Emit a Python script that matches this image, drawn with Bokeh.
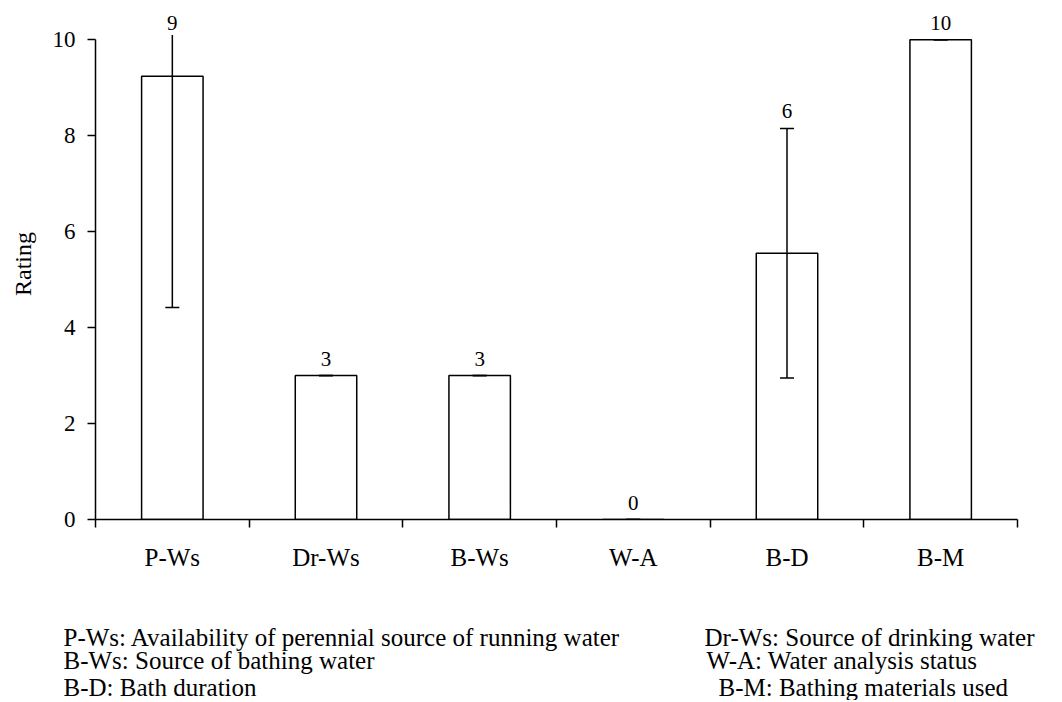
import numpy as np
from bokeh.plotting import figure
from bokeh.models import Range1d, FixedTicker, ColumnDataSource, LabelSet
from bokeh.core.properties import value
from bokeh.embed import file_html
from bokeh.resources import INLINE

categories = ["P-Ws", "Dr-Ws", "B-Ws", "W-A", "B-D", "B-M"]
means = [9.24, 3.0, 3.0, 0.0, 5.55, 10.0]
errors = [4.82, 0.0, 0.0, 0.0, 2.6, 0.0]
value_labels = ["9", "3", "3", "0", "6", "10"]
y_ticks = [0, 2, 4, 6, 8, 10]
legend_left = ["P-Ws: Availability of perennial source of running water",
               "B-Ws: Source of bathing water",
               "B-D: Bath duration"]
legend_right = ["Dr-Ws: Source of drinking water",
                "W-A: Water analysis status",
                "B-M: Bathing materials used"]

FONT = "Liberation Serif"
W = 1062
H1, H2 = 580, 120

x = np.arange(len(categories)) + 0.5
m = np.array(means)
e = np.array(errors)
lower = m - e
upper = m + e
axis_top = 10.1
bar_upper = np.minimum(upper, axis_top)   # error bar is cut at the top of the axis
label_y = np.minimum(upper, 10)

src = ColumnDataSource(dict(x=x, top=m, lower=lower, upper=upper, bar_upper=bar_upper,
                            label_y=label_y, text=value_labels))

p = figure(width=W, height=H1, x_range=Range1d(0, 6), y_range=Range1d(0, 10.65),
           output_backend="svg", toolbar_location=None,
           min_border_left=95, min_border_right=W - 1017, min_border_top=8,
           min_border_bottom=H1 - 519)
p.grid.visible = False
p.outline_line_color = None
p.background_fill_color = "white"
p.border_fill_color = "white"

p.vbar(x="x", top="top", width=0.4, bottom=0, source=src, fill_color="white",
       line_color="black", line_width=1.5)
p.segment(x0="x", y0="lower", x1="x", y1="bar_upper", source=src,
          line_color="black", line_width=1.5)
p.scatter(x="x", y="lower", marker="dash", size=14, source=src,
          line_color="black", line_width=1.5)
p.scatter(x="x", y="upper", marker="dash", size=14, source=src,
          line_color="black", line_width=1.5)

labels = LabelSet(x="x", y="label_y", text="text", source=src,
                  text_align="center", text_baseline="bottom", y_offset=10,
                  text_font=FONT, text_font_size="21px", text_color="black")
p.add_layout(labels)

# y axis
ya = p.yaxis[0]
ya.ticker = FixedTicker(ticks=y_ticks)
ya.bounds = (0, 10)
ya.axis_label = "Rating"
ya.axis_label_text_font = FONT
ya.axis_label_text_font_size = "24px"
ya.axis_label_text_font_style = "normal"
ya.axis_label_text_color = "black"
ya.axis_label_standoff = 14
ya.major_label_text_font = FONT
ya.major_label_text_font_size = "23px"
ya.major_label_text_color = "black"
ya.major_label_standoff = 12
ya.major_tick_out = 8
ya.major_tick_in = 0
ya.minor_tick_out = 0
ya.minor_tick_in = 0
ya.axis_line_width = 1.5
ya.major_tick_line_width = 1.5

# x axis
xa = p.xaxis[0]
xa.ticker = FixedTicker(ticks=list(x), minor_ticks=list(range(len(categories) + 1)))
xa.major_label_overrides = {float(xv): c for xv, c in zip(x, categories)}
xa.major_label_text_font = FONT
xa.major_label_text_font_size = "25px"
xa.major_label_text_color = "black"
xa.major_label_standoff = 16
xa.major_tick_out = 0
xa.major_tick_in = 0
xa.minor_tick_out = 8
xa.minor_tick_in = 0
xa.minor_tick_line_color = "black"
xa.minor_tick_line_width = 1.5
xa.axis_line_width = 1.5

# footnote legend in a separate panel below the chart (full-width frame)
p2 = figure(width=W, height=H2, x_range=Range1d(0, W), y_range=Range1d(0, H2),
            output_backend="svg", toolbar_location=None,
            min_border=0, min_border_left=0, min_border_right=0,
            min_border_top=0, min_border_bottom=0)
p2.axis.visible = False
p2.grid.visible = False
p2.outline_line_color = None
p2.background_fill_color = "white"
p2.border_fill_color = "white"

rows_y = [H2 - (637 - H1), H2 - (660 - H1), H2 - (687 - H1)]
left_x = [63, 63, 63]
right_x = [704, 706, 718]
p2.text(x=left_x + right_x, y=rows_y + rows_y, text=legend_left + legend_right,
        text_font=value(FONT), text_font_size="25px", text_color="black",
        text_baseline="middle", text_align="left")

open("out.html", "w").write(file_html((p, p2), INLINE))
